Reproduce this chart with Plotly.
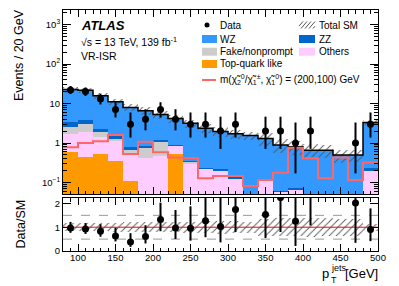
import plotly.graph_objects as go

# ---------------- data ----------------
bin_lo = [80, 100, 120, 140, 160, 180, 200, 220, 240, 260, 280, 300, 320, 340, 360, 380, 400, 420, 440, 460, 480]
bin_hi = [100, 120, 140, 160, 180, 200, 220, 240, 260, 280, 300, 320, 340, 360, 380, 400, 420, 440, 460, 480, 500]

top_quark = [0.58, 0.45, 0.53, 0.35, 0.11, 0.0, 0.0, 0.53, 0.0, 0.0, 0.0, 0.0, 0.005, 0.0, 0.0, 0.0, 0.0, 0.0, 0.0, 0.01, 0.01]
others    = [1.08, 1.45, 0.91, 0.84, 0.39, 0.42, 0.48, 0.31, 0.30, 0.23, 0.205, 0.125, 0.015, 0.116, 0.058, 0.067, 0.015, 0.015, 0.015, 0.015, 0.197]
fake      = [0.94, 1.05, 0.51, 0.05, 0.16, 0.36, 0.64, 0.01, 0.04, 0.0, 0.0, 0.0, 0.0, 0.0, 0.0, 0.0, 0.0, 0.0, 0.0, 0.0, 0.0]
zz        = [0.85, 0.85, 0.27, 0.26, 0.12, 0.06, 0.05, 0.02, 0.02, 0.005, 0.02, 0.01, 0.01, 0.009, 0.002, 0.006, 0.01, 0.01, 0.01, 0.01, 0.023]
wz        = [19.25, 17.9, 13.48, 9.5, 7.12, 5.76, 4.13, 3.28, 2.79, 2.125, 1.725, 1.585, 1.52, 1.175, 0.83, 0.727, 0.635, 0.635, 0.47, 0.46, 3.07]
sm_rel_unc = [0.17, 0.16, 0.16, 0.18, 0.20, 0.22, 0.22, 0.22, 0.24, 0.26, 0.28, 0.26, 0.24, 0.35, 0.38, 0.38, 0.40, 0.38, 0.36, 0.35, 0.15]

signal = [0.78, 1.0, 1.1, 1.6, 0.53, 1.08, 0.58, 0.43, 0.41, 0.128, 0.146, 0.146, 0.082, 0.116, 0.177, 0.76, 0.41, 0.128, 0.43, 0.116, 0.32]

data        = [22, 20, 13, 7, 3, 4, 7, 4, 3, 3, 2, 3, None, 2, 2, 1, 2, None, None, 1, 3]
data_err_lo = [4.65, 4.43, 3.56, 2.58, 1.63, 1.91, 2.58, 1.91, 1.63, 1.63, 1.29, 1.63, None, 1.29, 1.29, 0.83, 1.29, None, None, 0.83, 1.63]
data_err_hi = [5.77, 5.56, 4.70, 3.77, 2.92, 3.16, 3.77, 3.16, 2.92, 2.92, 2.64, 2.92, None, 2.64, 2.64, 2.30, 2.64, None, None, 2.30, 2.92]

main_tickvals = [0.1, 1, 10, 100, 1000]
main_ticktext = ["10<sup>−1</sup>", "1", "10", "10<sup>2</sup>", "10<sup>3</sup>"]

# ---------------- derived ----------------
centers = [(a + b) / 2 for a, b in zip(bin_lo, bin_hi)]
widths = [b - a for a, b in zip(bin_lo, bin_hi)]
total = [t + o + f + z + w for t, o, f, z, w in zip(top_quark, others, fake, zz, wz)]
edges = bin_lo + [bin_hi[-1]]

ratio, r_lo, r_hi = [], [], []
for d, lo, hi, tot in zip(data, data_err_lo, data_err_hi, total):
    if d is None:
        ratio.append(None); r_lo.append(None); r_hi.append(None)
    else:
        ratio.append(d / tot); r_lo.append(lo / tot); r_hi.append(hi / tot)

FONT = "Liberation Sans, Arial, sans-serif"
OFF = 8  # page body margin offset
W, H = 399 - OFF, 286 - OFF
# plot-area edges in screen pixels
L, R, T, B = 63, 378, 10, 251


def px(x):
    return (x - L) / (R - L)


def py(y):
    return (B - y) / (B - T)


fig = go.Figure()

stack = [
    ("Top-quark like", top_quark, "#ff9900"),
    ("Others", others, "#ffccff"),
    ("Fake/nonprompt", fake, "#cccccc"),
    ("ZZ", zz, "#0066cc"),
    ("WZ", wz, "#3399ff"),
]
for name, vals, col in stack:
    fig.add_trace(go.Bar(x=centers, y=vals, width=widths, name=name,
                         marker=dict(color=col, line=dict(width=0)),
                         xaxis="x", yaxis="y", showlegend=False))

hatch = dict(shape="/", fgcolor="#555555", bgcolor="rgba(0,0,0,0)",
             size=5, solidity=0.18, fillmode="replace")

# total SM uncertainty band (main)
fig.add_trace(go.Bar(
    x=centers, width=widths,
    base=[t * (1 - u) for t, u in zip(total, sm_rel_unc)],
    y=[2 * t * u for t, u in zip(total, sm_rel_unc)],
    marker=dict(color="rgba(0,0,0,0)", line=dict(width=0), pattern=hatch),
    xaxis="x", yaxis="y", showlegend=False))

# total SM line
fig.add_trace(go.Scatter(x=edges, y=total + [total[-1]], mode="lines",
                         line=dict(color="black", width=1.5, shape="hv"),
                         xaxis="x", yaxis="y", showlegend=False))
# signal
fig.add_trace(go.Scatter(x=edges, y=signal + [signal[-1]], mode="lines",
                         line=dict(color="#ff6666", width=2, shape="hv"),
                         xaxis="x", yaxis="y", showlegend=False))
# data
fig.add_trace(go.Scatter(x=centers, y=data, mode="markers",
                         marker=dict(color="black", size=7),
                         error_y=dict(type="data", symmetric=False, array=data_err_hi,
                                      arrayminus=data_err_lo, color="black", thickness=2, width=0),
                         xaxis="x", yaxis="y", showlegend=False))

# ratio band
fig.add_trace(go.Bar(
    x=centers, width=widths,
    base=[1 - u for u in sm_rel_unc],
    y=[2 * u for u in sm_rel_unc],
    marker=dict(color="rgba(0,0,0,0)", line=dict(width=0), pattern=hatch),
    xaxis="x2", yaxis="y2", showlegend=False))
# ratio points
fig.add_trace(go.Scatter(x=centers, y=ratio, mode="markers",
                         marker=dict(color="black", size=7),
                         error_y=dict(type="data", symmetric=False, array=r_hi,
                                      arrayminus=r_lo, color="black", thickness=2, width=0),
                         xaxis="x2", yaxis="y2", showlegend=False))

shapes = []
for v in (0.5, 1.5):
    shapes.append(dict(type="line", xref="x2", yref="y2", x0=80, x1=500, y0=v, y1=v,
                       line=dict(color="#999999", width=1, dash="dash"), layer="below"))
shapes.append(dict(type="line", xref="x2", yref="y2", x0=80, x1=500, y0=1, y1=1,
                   line=dict(color="#ff0000", width=1), layer="below"))

annotations = []


def text(x, y, s, size=10, xanchor="left", yanchor="middle", angle=0):
    annotations.append(dict(x=px(x), y=py(y), xref="paper", yref="paper", text=s,
                            showarrow=False, xanchor=xanchor, yanchor=yanchor,
                            textangle=angle, font=dict(family=FONT, size=size, color="black")))


# labels
text(79, 25, "<b><i>ATLAS</i></b>", size=13)
text(79, 42, "√s = 13 TeV, 139 fb<sup>-1</sup>", size=10.5)
text(79, 56, "VR-ISR", size=10.5)


def box(x0, x1, yc, col):
    shapes.append(dict(type="rect", xref="paper", yref="paper",
                       x0=px(x0), x1=px(x1), y0=py(yc + 4), y1=py(yc - 4),
                       fillcolor=col, line=dict(width=0)))


# legend: Data marker
shapes.append(dict(type="circle", xref="paper", yref="paper",
                   x0=px(204.5), x1=px(209.5), y0=py(27.5), y1=py(22.5),
                   fillcolor="black", line=dict(width=0)))
text(218, 25, "Data")
# Total SM hatch
for xs in (297, 301, 305, 309, 313):
    x0, y0, x1, y1 = xs, 28.5, xs + 6, 21.5
    if x0 < 299:
        y0 = 28.5 - (299 - x0) * 7 / 6; x0 = 299
    if x1 > 315:
        y1 = 21.5 + (x1 - 315) * 7 / 6; x1 = 315
    shapes.append(dict(type="line", xref="paper", yref="paper",
                       x0=px(x0), x1=px(x1), y0=py(y0), y1=py(y1),
                       line=dict(color="#555555", width=1)))
text(317, 25, "Total SM")
box(202, 217, 39, "#3399ff"); text(218, 39, "WZ")
box(299, 315, 39, "#0066cc"); text(317, 39, "ZZ")
box(202, 217, 51.7, "#cccccc"); text(218, 51.7, "Fake/nonprompt")
box(299, 315, 51.7, "#ffccff"); text(317, 51.7, "Others")
box(202, 217, 64, "#ff9900"); text(218, 64, "Top-quark like")
shapes.append(dict(type="line", xref="paper", yref="paper", x0=px(202), x1=px(216),
                   y0=py(80), y1=py(80), line=dict(color="#ff6666", width=2)))
text(218, 80, "m(χ̃<sub>2</sub><sup>0</sup>/χ̃<sub>1</sub><sup>±</sup>, χ̃<sub>1</sub><sup>0</sup>) = (200,100) GeV")

# axis titles
text(19, 55, "Events / 20 GeV", size=12.5, xanchor="center", angle=-90)
text(20, 224.5, "Data/SM", size=12.5, xanchor="center", angle=-90)
text(380, 273.5, "[GeV]", size=13, xanchor="right")
text(325.5, 273.5, "p", size=13, xanchor="center")
text(328.5, 280, "T", size=9, xanchor="left")
text(328.5, 267.5, "jets", size=9, xanchor="left")

axis_common = dict(showline=True, linecolor="black", linewidth=1, mirror="allticks",
                   ticks="inside", tickcolor="black", showgrid=False, zeroline=False,
                   tickfont=dict(family=FONT, size=9.5, color="black"))

minor_log = [m * 10 ** e for e in range(-2, 4) for m in range(2, 10)]

fig.update_layout(
    width=W, height=H,
    margin=dict(l=L - OFF, r=399 - R, t=T - OFF, b=286 - B),
    paper_bgcolor="white", plot_bgcolor="white",
    barmode="stack", bargap=0, showlegend=False,
    font=dict(family=FONT, size=10, color="black"),
    xaxis=dict(domain=[0, 1], range=[80, 500], anchor="y", showticklabels=False,
               dtick=50, tick0=0, ticklen=7,
               minor=dict(dtick=10, tick0=0, ticks="inside", ticklen=3.5, tickcolor="black"),
               **axis_common),
    yaxis=dict(domain=[(B - 194) / (B - T), 1], type="log", range=[-1.291, 3.367], anchor="x",
               tickmode="array", tickvals=main_tickvals, ticktext=main_ticktext, ticklen=8,
               minor=dict(tickmode="array", tickvals=minor_log, ticks="inside", ticklen=4,
                          tickcolor="black"),
               **axis_common),
    xaxis2=dict(domain=[0, 1], range=[80, 500], anchor="y2", dtick=50, tick0=0, ticklen=7,
                ticklabelstandoff=-2,
                minor=dict(dtick=10, tick0=0, ticks="inside", ticklen=3.5, tickcolor="black"),
                **axis_common),
    yaxis2=dict(domain=[0, (B - 198) / (B - T)], range=[0, 2.23], anchor="x2",
                tickmode="array", tickvals=[0, 1, 2], ticklen=8, **axis_common),
    shapes=shapes, annotations=annotations,
)

fig.write_html("out.html")
